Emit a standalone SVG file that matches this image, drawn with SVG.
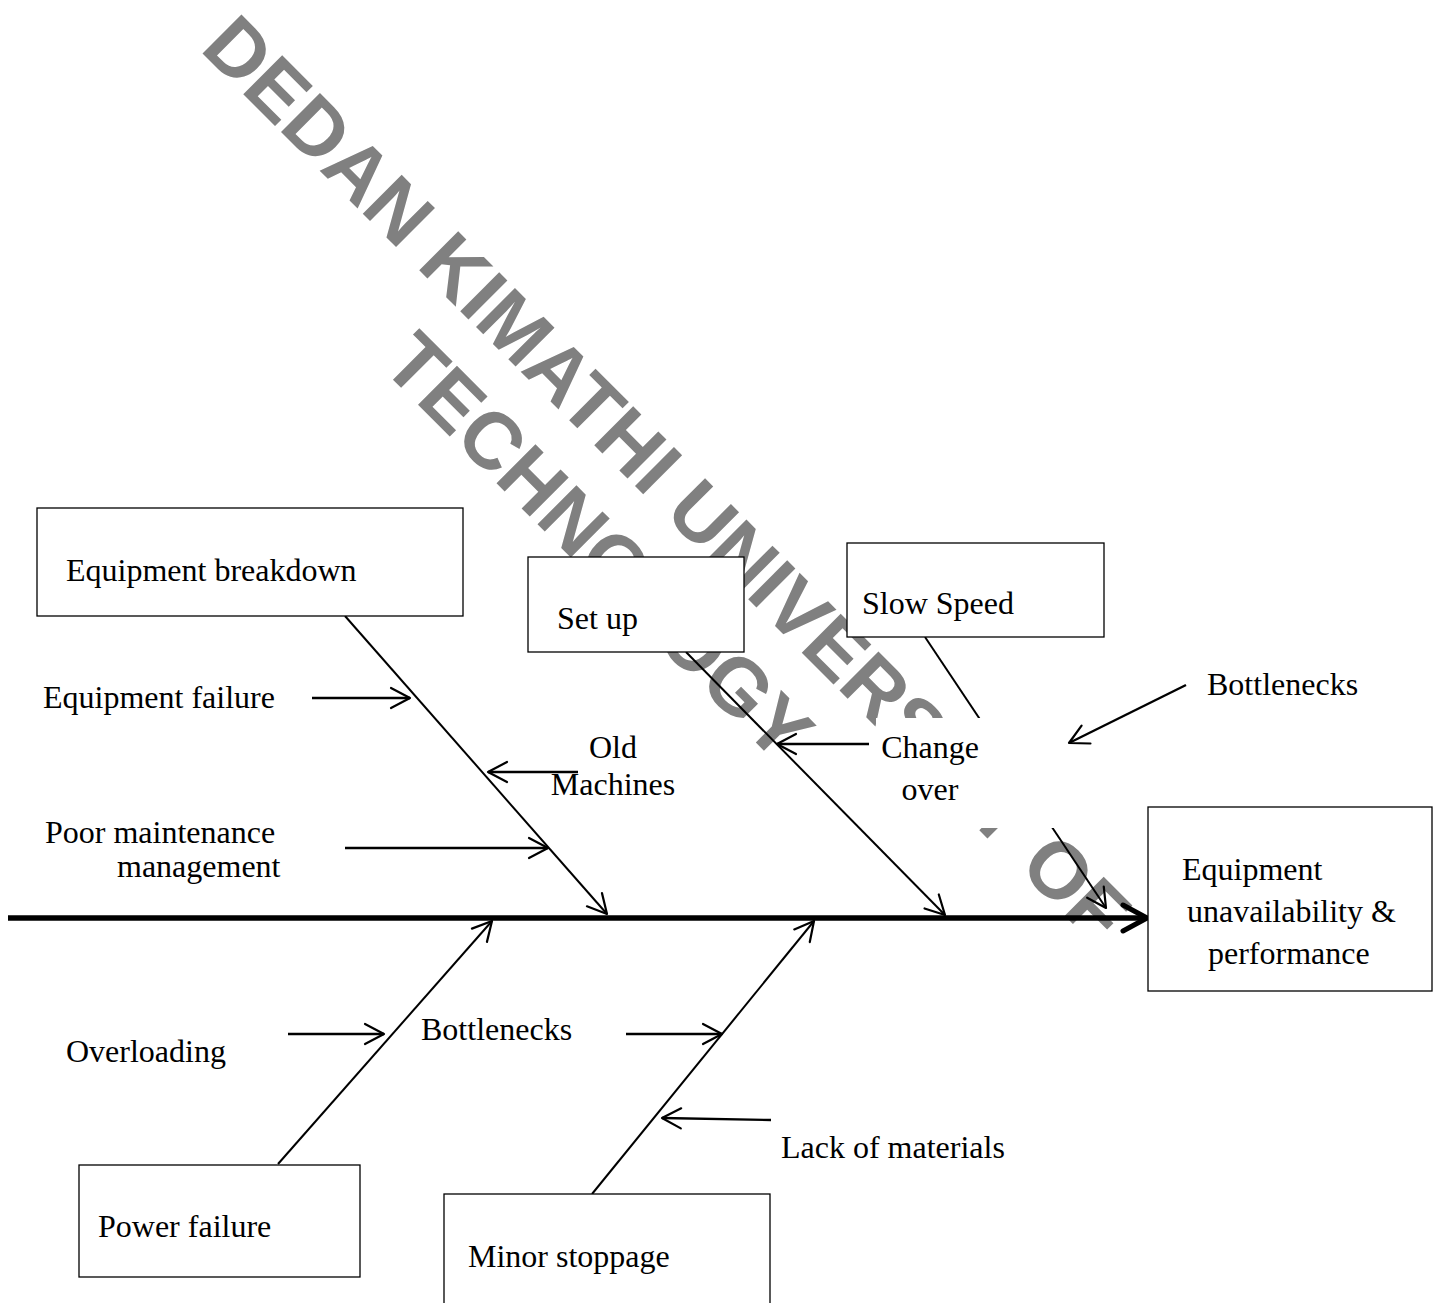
<svg xmlns="http://www.w3.org/2000/svg" width="1437" height="1303" viewBox="0 0 1437 1303">
  <style>
    .box { fill: #fff; stroke: #000; stroke-width: 1.3; }
    .lbl { font-family: "Liberation Serif", "Times New Roman", serif; font-size: 32px; fill: #000; }
    .bone { fill: none; stroke: #000; stroke-width: 2; marker-end: url(#head); }
    .arrow { fill: none; stroke: #000; stroke-width: 2.4; marker-end: url(#head); }
    .wm { font-family: "Liberation Sans", Arial, sans-serif; font-weight: bold; font-size: 80px; fill: #808080; }
  </style>
  <defs>
    <marker id="head" markerUnits="userSpaceOnUse" markerWidth="28" markerHeight="28" viewBox="-24 -14 28 28" refX="0" refY="0" orient="auto" overflow="visible">
      <path d="M-19,-10 L0,0 L-19,10" fill="none" stroke="#000" stroke-width="2.2" stroke-linecap="round" stroke-linejoin="round"/>
    </marker>
    <clipPath id="pmClip">
      <rect x="0" y="0" width="1437" height="887"/>
    </clipPath>
  </defs>

  <rect x="0" y="0" width="1437" height="1303" fill="#fff"/>

  <!-- watermark -->
  <g id="watermark" transform="translate(196,47) rotate(45)">
    <text class="wm" x="638" y="0" text-anchor="middle">DEDAN KIMATHI UNIVERSITY OF</text>
    <text class="wm" x="638" y="96" text-anchor="middle">TECHNOLOGY</text>
  </g>

  <!-- connectors: spine, bones and cause arrows -->
  <g id="connectors">
    <line x1="8" y1="918" x2="1144" y2="918" stroke="#000" stroke-width="5.5"/>
    <path d="M1123,905 L1147,918 L1123,931" fill="none" stroke="#000" stroke-width="5" stroke-linecap="round" stroke-linejoin="round"/>

    <line class="bone" x1="345" y1="616" x2="607" y2="914"/>
    <line class="bone" x1="686" y1="652" x2="945" y2="915"/>
    <line class="bone" x1="925" y1="637" x2="1106" y2="908"/>
    <line class="bone" x1="278" y1="1164" x2="492" y2="921"/>
    <line class="bone" x1="592" y1="1194" x2="814" y2="921"/>

    <line class="arrow" x1="312" y1="698" x2="410" y2="698"/>
    <line class="arrow" x1="578" y1="772" x2="488" y2="772"/>
    <line class="arrow" x1="345" y1="848" x2="548" y2="848"/>
    <line class="arrow" x1="869" y1="744" x2="777" y2="744"/>
    <line class="arrow" x1="1186" y1="685" x2="1069" y2="743"/>
    <line class="arrow" x1="288" y1="1034" x2="384" y2="1034"/>
    <line class="arrow" x1="626" y1="1034" x2="722" y2="1034"/>
    <line class="arrow" x1="771" y1="1120" x2="662" y2="1118"/>
  </g>

  <!-- category boxes -->
  <g id="equipment-breakdown">
    <rect class="box" x="37" y="508" width="426" height="108"/>
    <text class="lbl" x="66" y="581">Equipment breakdown</text>
  </g>
  <g id="set-up">
    <rect class="box" x="528" y="557" width="216" height="95"/>
    <text class="lbl" x="557" y="629">Set up</text>
  </g>
  <g id="slow-speed">
    <rect class="box" x="847" y="543" width="257" height="94"/>
    <text class="lbl" x="862" y="614">Slow Speed</text>
  </g>
  <g id="power-failure">
    <rect class="box" x="79" y="1165" width="281" height="112"/>
    <text class="lbl" x="98" y="1237">Power failure</text>
  </g>
  <g id="minor-stoppage">
    <rect class="box" x="444" y="1194" width="326" height="120"/>
    <text class="lbl" x="468" y="1267">Minor stoppage</text>
  </g>
  <g id="effect">
    <rect class="box" x="1148" y="807" width="284" height="184"/>
    <text class="lbl" x="1182" y="880">Equipment</text>
    <text class="lbl" x="1187" y="922">unavailability &amp;</text>
    <text class="lbl" x="1208" y="964">performance</text>
  </g>

  <!-- cause labels -->
  <g id="equipment-failure">
    <text class="lbl" x="43" y="708">Equipment failure</text>
  </g>
  <g id="old-machines">
    <text class="lbl" x="613" y="758" text-anchor="middle">Old</text>
    <text class="lbl" x="613" y="795" text-anchor="middle">Machines</text>
  </g>
  <g id="poor-maintenance" clip-path="url(#pmClip)">
    <text class="lbl" x="45" y="843">Poor maintenance</text>
    <text class="lbl" x="117" y="877">management</text>
  </g>
  <g id="change-over">
    <rect x="876" y="718" width="182" height="110" fill="#fff"/>
    <text class="lbl" x="930" y="758" text-anchor="middle">Change</text>
    <text class="lbl" x="930" y="800" text-anchor="middle">over</text>
  </g>
  <g id="bottlenecks-top">
    <text class="lbl" x="1207" y="695">Bottlenecks</text>
  </g>
  <g id="overloading">
    <text class="lbl" x="66" y="1062">Overloading</text>
  </g>
  <g id="bottlenecks-bottom">
    <text class="lbl" x="421" y="1040">Bottlenecks</text>
  </g>
  <g id="lack-of-materials">
    <text class="lbl" x="781" y="1158">Lack of materials</text>
  </g>
</svg>
